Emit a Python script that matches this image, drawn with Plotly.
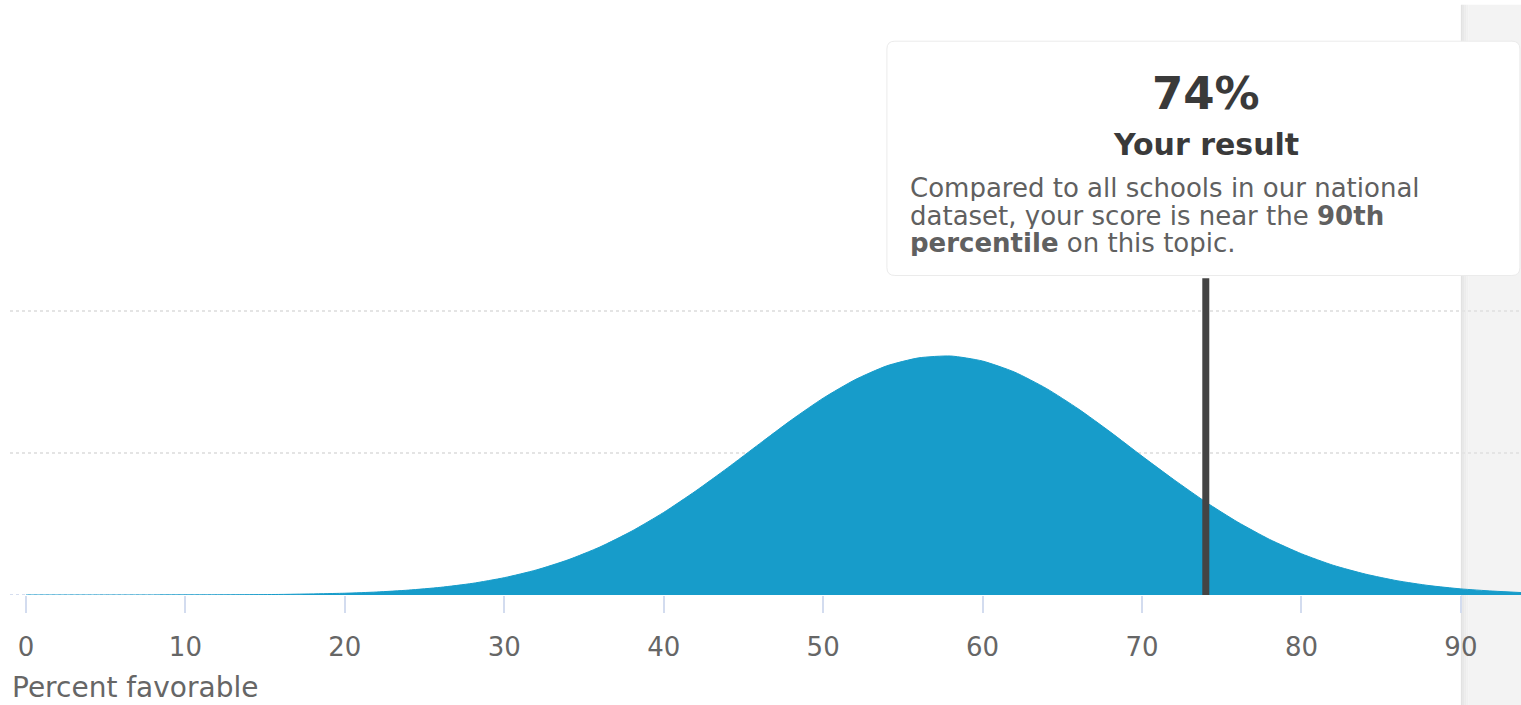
import plotly.graph_objects as go

# Distribution of school scores (share of schools, %) by percent favorable
score_pct = [0, 4, 8, 12, 16, 20, 22, 24, 26, 28, 30, 32, 34, 36, 38, 40, 42, 44, 46, 48,
             50, 52, 54, 56, 58, 60, 62, 64, 66, 68, 70, 72, 74, 76, 78, 80, 82, 84, 86,
             88, 90, 92, 94]
share_of_schools = [0.0, 0.0001, 0.0007, 0.0025, 0.008, 0.025, 0.042, 0.069, 0.108, 0.164,
                    0.244, 0.352, 0.495, 0.676, 0.900, 1.163, 1.464, 1.789, 2.128, 2.463,
                    2.772, 3.032, 3.228, 3.340, 3.366, 3.295, 3.140, 2.909, 2.622, 2.298,
                    1.956, 1.624, 1.309, 1.027, 0.783, 0.581, 0.418, 0.295, 0.201, 0.133,
                    0.086, 0.055, 0.032]

your_result = 74
result_label = "74%"
percentile_label = "90th"
tick_values = [0, 10, 20, 30, 40, 50, 60, 70, 80, 90]

FONT = "DejaVu Sans"
BLUE = "#179cca"

X_MIN, X_MAX = -1.0, 93.77
Y_MAX = 8.38
MARKER_TOP = 4.46

fig = go.Figure()

fig.add_trace(go.Scatter(
    x=score_pct, y=share_of_schools,
    mode="lines", line=dict(color=BLUE, width=1, shape="spline", smoothing=0.6),
    fill="tozeroy", fillcolor=BLUE, hoverinfo="skip", showlegend=False,
))

# marker for the school's own result
fig.add_trace(go.Scatter(
    x=[your_result, your_result], y=[0, MARKER_TOP],
    mode="lines", line=dict(color="#444444", width=7),
    hoverinfo="skip", showlegend=False,
))

shapes = []

# grey side panel with a soft shadow on its left edge
panel_x0 = 90.0
shade = ["#e2e2e2", "#e8e8e8", "#ececec", "#f0f0f0"]
step = 0.12
for i, c in enumerate(shade):
    shapes.append(dict(type="rect", xref="x", yref="paper",
                       x0=panel_x0 + i * step, x1=panel_x0 + (i + 1) * step,
                       y0=-0.19, y1=0.992, fillcolor=c, line=dict(width=0), layer="below"))
shapes.append(dict(type="rect", xref="x", yref="paper",
                   x0=panel_x0 + len(shade) * step, x1=X_MAX + 1,
                   y0=-0.19, y1=0.992, fillcolor="#f3f3f3", line=dict(width=0), layer="below"))

# dotted baseline
shapes.append(dict(type="line", xref="x", yref="y", x0=X_MIN, x1=X_MAX, y0=0, y1=0,
                   line=dict(color="#c9d3ea", width=1.5, dash="dot"), layer="below"))

# result card with rounded corners
bx0, bx1, by0, by1 = 54.0, 93.7, 4.50, 7.80
rx, ry = 0.5, 0.11
card_path = (f"M {bx0 + rx} {by1} L {bx1 - rx} {by1} Q {bx1} {by1} {bx1} {by1 - ry} "
             f"L {bx1} {by0 + ry} Q {bx1} {by0} {bx1 - rx} {by0} "
             f"L {bx0 + rx} {by0} Q {bx0} {by0} {bx0} {by0 + ry} "
             f"L {bx0} {by1 - ry} Q {bx0} {by1} {bx0 + rx} {by1} Z")
shapes.append(dict(type="path", xref="x", yref="y", path=card_path,
                   fillcolor="white", line=dict(color="#ebebeb", width=1), layer="above"))

annotations = [
    dict(x=your_result, y=7.07, xref="x", yref="y", text=f"<b>{result_label}</b>",
         showarrow=False, xanchor="center", yanchor="middle",
         font=dict(family=FONT, size=45, color="#3a3a3a")),
    dict(x=your_result, y=6.35, xref="x", yref="y", text="<b>Your result</b>",
         showarrow=False, xanchor="center", yanchor="middle",
         font=dict(family=FONT, size=30, color="#3a3a3a")),
]
body_lines = [
    ("Compared to all schools in our national", 5.74),
    (f"dataset, your score is near the <b>{percentile_label}</b>", 5.35),
    ("<b>percentile</b> on this topic.", 4.96),
]
for txt, yy in body_lines:
    annotations.append(dict(x=55.4, y=yy, xref="x", yref="y", text=txt, showarrow=False,
                            xanchor="left", yanchor="middle", height=27, borderpad=0,
                            valign="middle",
                            font=dict(family=FONT, size=26, color="#606060")))

annotations.append(dict(x=0, y=-0.155, xref="paper", yref="paper", text="Percent favorable",
                        showarrow=False, xanchor="left", yanchor="middle",
                        font=dict(family=FONT, size=28, color="#666666")))

fig.update_layout(
    width=1521, height=705,
    margin=dict(l=10, r=0, t=0, b=110),
    paper_bgcolor="white", plot_bgcolor="rgba(0,0,0,0)",
    showlegend=False,
    shapes=shapes, annotations=annotations,
    xaxis=dict(range=[X_MIN, X_MAX], tickvals=tick_values,
               ticks="outside", ticklen=17, tickwidth=2, tickcolor="#d3dcef",
               ticklabelstandoff=12,
               tickfont=dict(family=FONT, size=26, color="#666666"),
               showgrid=False, zeroline=False, showline=False, fixedrange=True),
    yaxis=dict(range=[0, Y_MAX], tickvals=[2, 4], showticklabels=False,
               showgrid=True, gridcolor="#e4e4e4", griddash="dot", gridwidth=1.5,
               zeroline=False, showline=False, fixedrange=True),
)

fig.write_html("out.html", config={"displayModeBar": False})
